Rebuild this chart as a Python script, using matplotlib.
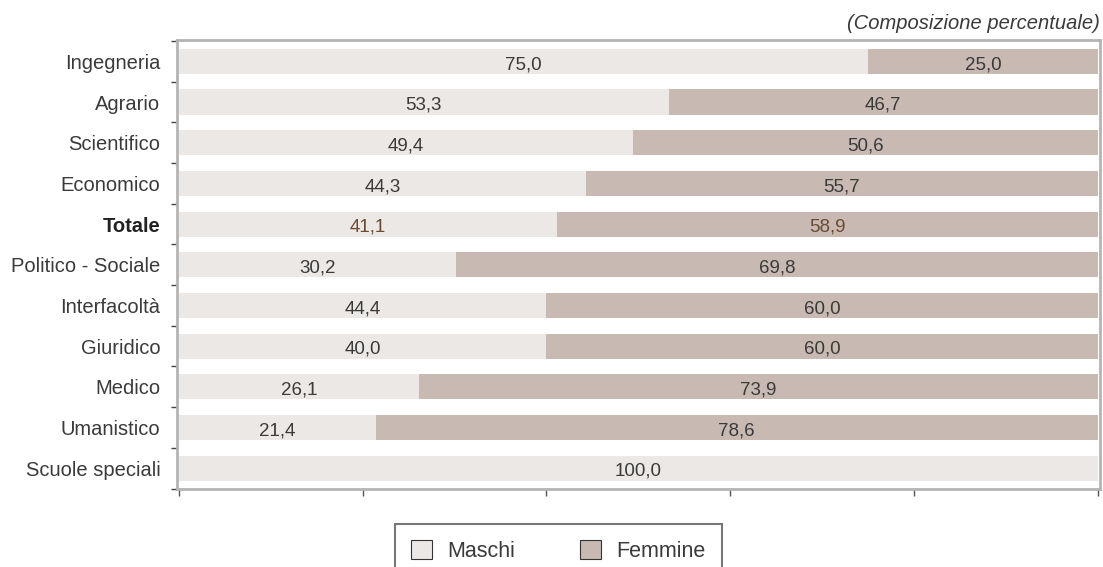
import matplotlib.pyplot as plt
import numpy as np
from matplotlib.patches import Patch

plt.rcParams['font.family'] = ['Liberation Sans', 'DejaVu Sans']

categorie = ["Ingegneria", "Agrario", "Scientifico", "Economico", "Totale",
             "Politico - Sociale", "Interfacoltà", "Giuridico", "Medico",
             "Umanistico", "Scuole speciali"]
maschi = [75.0, 53.3, 49.4, 44.3, 41.1, 30.2, 44.4, 40.0, 26.1, 21.4, 100.0]
femmine = [25.0, 46.7, 50.6, 55.7, 58.9, 69.8, 60.0, 60.0, 73.9, 78.6, 0.0]

col_m = "#ece8e5"
col_f = "#c8bab2"
frame = "#b4b4b4"
testo = "#3a3a3a"
totale_col = "#6b4a32"

fig = plt.figure(figsize=(11.03, 5.67), dpi=100)
ax = fig.add_axes([0.1605, 0.137, 0.8365, 0.792])

y = np.arange(len(categorie))
h = 0.62
ax.barh(y, maschi, height=h, color=col_m, linewidth=0)
# femmine aligned to the right end of the 100% bar
left_f = [100 - f for f in femmine]
ax.barh(y, femmine, left=left_f, height=h, color=col_f, linewidth=0)

for i, (m, f) in enumerate(zip(maschi, femmine)):
    c = totale_col if categorie[i] == "Totale" else testo
    xm = min(m, 100 - f) / 2
    ax.text(xm, i + 0.03, f"{m:.1f}".replace(".", ","), ha="center",
            va="center_baseline", fontsize=13.5, color=c)
    if f > 0:
        ax.text(100 - f / 2, i + 0.03, f"{f:.1f}".replace(".", ","), ha="center",
                va="center_baseline", fontsize=13.5, color=c)

ax.set_ylim(len(categorie) - 0.48, -0.52)
ax.set_xlim(-0.2, 100.2)

ax.set_yticks(y)
ax.set_yticklabels(categorie, fontsize=14.5, color=testo)
for lab in ax.get_yticklabels():
    if lab.get_text() == "Totale":
        lab.set_fontweight("bold")
        lab.set_color("#222222")
ax.tick_params(axis="y", which="major", length=0, pad=12)
ax.set_yticks(np.arange(-0.5, len(categorie), 1), minor=True)
ax.tick_params(axis="y", which="minor", length=4, width=1, color="#444444",
               direction="out")

ax.set_xticks([0, 20, 40, 60, 80, 100])
ax.set_xticklabels([])
ax.tick_params(axis="x", length=5, width=1, color="#555555", direction="out")

for s in ax.spines.values():
    s.set_color(frame)
    s.set_linewidth(2)

fig.text(0.997, 0.958, "(Composizione percentuale)", ha="right", va="center",
         fontsize=14.5, style="italic", color=testo)

handles = [Patch(facecolor=col_m, edgecolor="#333333", linewidth=0.8, label="Maschi"),
           Patch(facecolor=col_f, edgecolor="#333333", linewidth=0.8, label="Femmine")]
leg = fig.legend(handles=handles, loc="upper center", bbox_to_anchor=(0.506, 0.076),
                 ncol=2, frameon=True, fancybox=False, fontsize=15.5,
                 handlelength=1.0, handleheight=1.0, handletextpad=0.7,
                 columnspacing=3.0, borderpad=0.75, borderaxespad=0,
                 edgecolor="#555555")
leg.get_frame().set_linewidth(1.5)
for t in leg.get_texts():
    t.set_color(testo)

fig.savefig("out.png", dpi=100)
